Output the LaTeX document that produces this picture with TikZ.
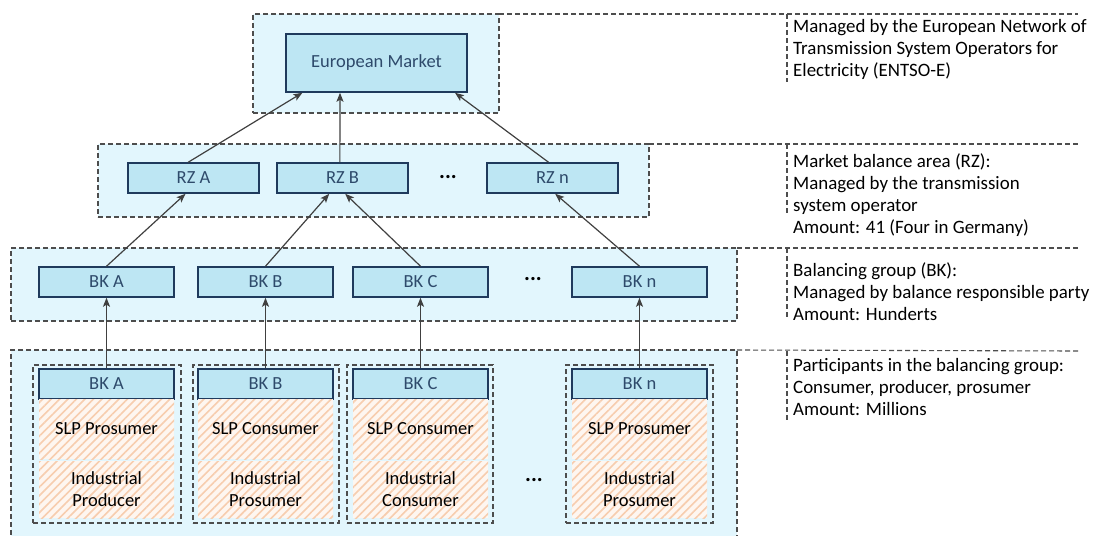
\documentclass[tikz,border=0pt]{standalone}
\usepackage{fontspec}
\setmainfont{Carlito}
\usetikzlibrary{arrows.meta,calc,patterns.meta}

\definecolor{lvfill}{HTML}{E2F6FD}
\definecolor{boxfill}{HTML}{BDE6F3}
\definecolor{boxline}{HTML}{1F3A5C}
\definecolor{boxtext}{HTML}{2E4A6B}
\definecolor{dashcol}{HTML}{4D4D4D}
\definecolor{arrowcol}{HTML}{404040}
\definecolor{hatchbg}{HTML}{FEF6F0}
\definecolor{hatchline}{HTML}{F7CDAE}

\tikzset{
  dashes/.style={draw=dashcol, dash pattern=on 5pt off 3pt, line width=1.1pt},
  level/.style={dashes, fill=lvfill, inner sep=0, outer sep=0},
  column/.style={dashes, inner sep=0, outer sep=0, minimum height=158pt},
  unit/.style={draw=boxline, fill=boxfill, line width=1.5pt, text=boxtext,
    font=\fontsize{18.5}{21}\selectfont, minimum height=30pt, minimum width=135pt, inner sep=0},
  rzunit/.style={unit, minimum width=131pt},
  member/.style={fill=hatchbg,
    postaction={pattern={Lines[angle=45,distance=6pt,line width=1.6pt]}, pattern color=hatchline},
    minimum width=135pt, inner sep=0, align=center, font=\fontsize{18.5}{22}\selectfont},
  slp/.style={member, minimum height=60pt},
  ind/.style={member, minimum height=57pt},
  arr/.style={draw=arrowcol, line width=1.2pt, -{Stealth[length=9pt,width=7pt,inset=2pt]}},
  note/.style={anchor=north west, inner sep=0, align=left, font=\fontsize{18.9}{22}\selectfont},
  dots/.style={font=\fontsize{22}{22}\selectfont\bfseries, inner sep=0},
}

\begin{document}
\begin{tikzpicture}[x=1pt, y=-1pt]
\useasboundingbox (0,0) rectangle (1099,535);

% ---- the four dashed levels ----
\node[level, minimum width=246pt, minimum height=99pt] (lvEM) at (376,63.5) {};
\node[level, minimum width=551pt, minimum height=73pt] (lvRZ) at (373.5,180.5) {};
\node[level, minimum width=726pt, minimum height=73pt] (lvBK) at (374,284.5) {};
\node[level, minimum width=726pt, minimum height=200pt] (lvPT) at (374,450) {};

% ---- guide lines towards the notes ----
\coordinate (gEM) at (1078,14);
\coordinate (gRZ) at (1078,144);
\coordinate (gBK) at (1078,248);
\coordinate (gPT) at (1078,351);
\draw[dashes] (lvEM.north east) -- (gEM);
\draw[dashes] (lvRZ.north east) -- (gRZ);
\draw[dashes] (lvBK.north east) -- (gBK);
\draw[dashes] (lvPT.north east) -- (gPT);
\draw[dashes] (787,14) -- (787,82);
\draw[dashes] (787,144) -- (787,214);
\draw[dashes] (787,248) -- (787,318);
\draw[dashes] (787,351) -- (787,420);

% ---- notes ----
\node[note] (nEM) at (793,19) {Managed by the European Network of\\Transmission System Operators for\\Electricity (ENTSO-E)};
\node[note] (nRZ) at (793,153) {Market balance area (RZ):\\Managed by the transmission\\system operator\\Amount: 41 (Four in Germany)};
\node[note] (nBK) at (793,262) {Balancing group (BK):\\Managed by balance responsible party\\Amount: Hunderts};
\node[note] (nPT) at (793,358) {Participants in the balancing group:\\Consumer, producer, prosumer\\Amount: Millions};

% ---- European market ----
\node[unit, minimum width=181pt, minimum height=58pt] (em) at (376.5,63) {European Market};

% ---- market balance areas ----
\node[rzunit] (rzA) at (193.5,178) {RZ A};
\node[rzunit] (rzB) at (342.5,178) {RZ B};
\node[rzunit] (rzN) at (552.5,178) {RZ n};
\node[dots] (rzdots) at (448,177) {...};

% ---- balancing groups ----
\node[unit] (bkA) at (106.5,282) {BK A};
\node[unit] (bkB) at (265.5,282) {BK B};
\node[unit] (bkC) at (420.5,282) {BK C};
\node[unit] (bkN) at (639.5,282) {BK n};
\node[dots] (bkdots) at (533,279) {...};

% ---- participants of each balancing group ----
\node[column, minimum width=148pt] (colA) at (107,444) {};
\node[column, minimum width=146pt] (colB) at (266,444) {};
\node[column, minimum width=146pt] (colC) at (420,444) {};
\node[column, minimum width=147pt] (colN) at (639.5,444) {};

\node[unit] (pA) at (106.5,384) {BK A};
\node[unit] (pB) at (265.5,384) {BK B};
\node[unit] (pC) at (420.5,384) {BK C};
\node[unit] (pN) at (639.5,384) {BK n};

\node[slp] (sA) at (106.5,429) {SLP Prosumer};
\node[slp] (sB) at (265.5,429) {SLP Consumer};
\node[slp] (sC) at (420.5,429) {SLP Consumer};
\node[slp] (sN) at (639.5,429) {SLP Prosumer};

\node[ind] (iA) at (106.5,489.5) {Industrial\\Producer};
\node[ind] (iB) at (265.5,489.5) {Industrial\\Prosumer};
\node[ind] (iC) at (420.5,489.5) {Industrial\\Consumer};
\node[ind] (iN) at (639.5,489.5) {Industrial\\Prosumer};
\node[dots] (ptdots) at (534,480) {...};

% ---- connectors ----
\draw[arr] ($(rzA.north west)!0.46!(rzA.north east)$) -- ($(em.south west)!0.094!(em.south east)$);
\draw[arr] ($(rzB.north west)!0.48!(rzB.north east)$) -- ($(em.south west)!0.30!(em.south east)$);
\draw[arr] ($(rzN.north west)!0.47!(rzN.north east)$) -- ($(em.south west)!0.93!(em.south east)$);

\draw[arr] (bkA.north) -- ($(rzA.south west)!0.44!(rzA.south east)$);
\draw[arr] (bkB.north) -- ($(rzB.south west)!0.40!(rzB.south east)$);
\draw[arr] (bkC.north) -- ($(rzB.south west)!0.52!(rzB.south east)$);
\draw[arr] (bkN.north) -- ($(rzN.south west)!0.52!(rzN.south east)$);

\draw[arr] (pA.north) -- (bkA.south);
\draw[arr] (pB.north) -- (bkB.south);
\draw[arr] (pC.north) -- (bkC.south);
\draw[arr] (pN.north) -- (bkN.south);
\end{tikzpicture}
\end{document}
